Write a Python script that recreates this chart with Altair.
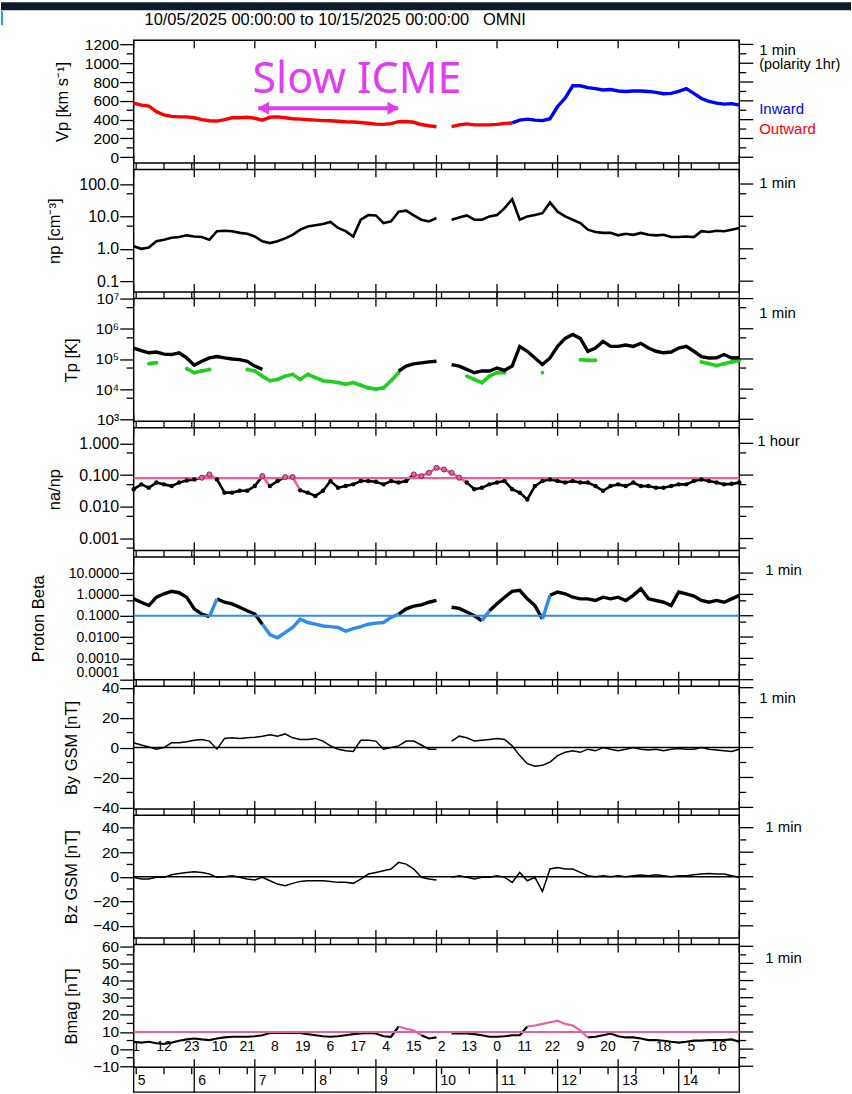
import altair as alt
import pandas as pd

# ---------------- data (3-hourly samples) ----------------
# hours since 10/05/2025 00:00
HOURS = list(range(0, 241, 3))

VP = [575, 555, 545, 485, 450, 435, 430, 430, 420, 400, 388, 385, 400, 420, 420, 425,
      415, 395, 425, 430, 420, 410, 405, 400, 395, 390, 388, 383, 378, 375, 370, 362,
      352, 350, 358, 378, 380, 372, 348, 335, 325, None, 325, 345, 355, 345, 345, 345,
      350, 360, 365, 395, 405, 395, 390, 410, 540, 630, 760, 760, 740, 730, 715, 720,
      705, 700, 705, 705, 700, 690, 675, 680, 700, 730, 680, 625, 595, 575, 565, 570, 555]
VP_POLARITY = ["Outward"] * 50 + ["Inward"] * 31

NP = [1.2, 1.0, 1.1, 1.7, 1.9, 2.2, 2.3, 2.6, 2.4, 2.3, 1.9, 3.5, 3.6, 3.5, 3.1, 2.9,
      2.4, 1.7, 1.5, 1.7, 2.1, 2.7, 3.9, 4.9, 5.3, 5.8, 6.7, 4.4, 3.5, 2.4, 7.9, 11,
      10.7, 6.2, 7.0, 14, 15, 10.7, 7.9, 7.0, 8.9, None, 7.9, 9.3, 10.7, 7.9, 7.9, 10,
      11, 18, 34, 7.9, 10, 11, 12.6, 27, 14, 10, 7.9, 6.2, 3.9, 3.3, 3.1, 3.1,
      2.6, 2.9, 2.7, 3.1, 2.7, 2.6, 2.7, 2.3, 2.3, 2.4, 2.3, 3.5, 3.3, 3.6, 3.5, 3.9, 4.4]

TP = [2.3e5, 1.9e5, 1.6e5, 1.7e5, 1.45e5, 1.4e5, 1.6e5, 1.08e5, 6.2e4, 8.4e4, 1.08e5, 1.2e5, 1.08e5, 1e5, 9.5e4, 8.4e4,
      5.8e4, 4.5e4, None, None, None, None, None, None, None, None, None, None, None, None, None, None,
      None, None, None, 4e4, 5.8e4, 6.9e4, 7.4e4, 8e4, 8.4e4, None, 6.5e4, 5.8e4, 4.5e4, 3.5e4, 4e4, 4e4,
      5e4, 4.2e4, 5.8e4, 2.6e5, 1.8e5, 1.08e5, 6.5e4, 1.08e5, 2.6e5, 4.8e5, 6.5e5, 4.8e5, 1.8e5, 2.3e5, 3.8e5, 2.6e5,
      2.6e5, 2.9e5, 2.6e5, 3.3e5, 2.3e5, 1.8e5, 1.6e5, 1.7e5, 2.3e5, 2.6e5, 1.8e5, 1.2e5, 1.08e5, 1.1e5, 1.4e5, 1.08e5, 1.1e5]

TP_LOW = [None, None, 7e4, 7.5e4, None, None, None, 4.8e4, 3.5e4, 4e4, 4.5e4, None, None, None, None, 4.5e4,
          4e4, 2.7e4, 1.9e4, 2.1e4, 2.7e4, 3.1e4, 2.1e4, 3.1e4, 2.4e4, 1.9e4, 1.8e4, 1.65e4, 1.45e4, 1.65e4, 1.35e4, 1.1e4,
          1.0e4, 1.1e4, 1.9e4, 3.5e4, None, None, None, None, None, None, None, None, 2.7e4, 2.1e4, 1.65e4, 2.7e4,
          3.5e4, 3.5e4, None, None, None, None, 3.5e4, None, None, None, None, 9.5e4, 9e4, 9e4, None, None,
          None, None, None, None, None, None, None, None, None, None, None, 8e4, 7e4, 6e4, 7e4, 8e4, 9e4]

NA_NP = [0.036, 0.051, 0.04, 0.058, 0.051, 0.045, 0.058, 0.068, 0.073, 0.083, 0.105, 0.073, 0.028, 0.028, 0.032, 0.032,
         0.045, 0.093, 0.045, 0.065, 0.087, 0.087, 0.033, 0.028, 0.022, 0.032, 0.065, 0.04, 0.045, 0.051, 0.065, 0.065,
         0.062, 0.051, 0.065, 0.058, 0.065, 0.105, 0.093, 0.118, 0.17, 0.15, 0.118, 0.083, 0.058, 0.036, 0.04, 0.051,
         0.058, 0.065, 0.036, 0.028, 0.017, 0.045, 0.065, 0.073, 0.065, 0.058, 0.065, 0.058, 0.058, 0.045, 0.032, 0.045,
         0.051, 0.045, 0.058, 0.045, 0.045, 0.04, 0.04, 0.045, 0.051, 0.051, 0.065, 0.073, 0.065, 0.058, 0.051, 0.053, 0.058]

BETA = [0.62, 0.43, 0.30, 0.74, 1.07, 1.4, 1.2, 0.74, 0.21, 0.12, 0.09, 0.62, 0.43, 0.36, 0.25, 0.17,
        0.12, 0.04, 0.013, 0.0093, 0.016, 0.028, 0.07, 0.048, 0.04, 0.033, 0.031, 0.028, 0.019, 0.025, 0.031, 0.04,
        0.045, 0.048, 0.083, 0.12, 0.21, 0.28, 0.32, 0.43, 0.52, None, 0.25, 0.22, 0.15, 0.1, 0.058, 0.17,
        0.36, 0.74, 1.4, 1.55, 0.62, 0.30, 0.07, 0.9, 1.3, 1.07, 0.74, 0.62, 0.62, 0.52, 0.74, 0.62,
        0.74, 0.52, 0.9, 1.86, 0.62, 0.52, 0.43, 0.30, 1.3, 1.07, 0.83, 0.52, 0.43, 0.52, 0.43, 0.62, 0.9]

BY = [3.2, 1.7, 0.4, -1.1, 0, 3.2, 3.2, 3.9, 4.8, 5.4, 4.3, -1.1, 6.1, 6.5, 6.1, 6.5,
      6.9, 7.6, 8.6, 7.6, 9.1, 6.5, 5.4, 5.4, 6.1, 4.3, 1.1, -1.1, -2.2, -2.6, 4.8, 4.8,
      4.3, -1.1, 0, 1.1, 4.3, 4.3, 1.7, -1.1, -1.1, None, 4.3, 7.6, 6.5, 4.3, 4.8, 5.4,
      6.1, 5.4, 1.1, -5.4, -10.8, -12.5, -11.9, -9.7, -5.4, -3.2, -2.2, -3.2, -1.1, -2.2, 0, -1.1,
      -2.2, -1.1, 0, -1.1, -1.7, -1.1, -2.2, -1.1, -0.6, -1.1, -1.1, 0, -1.1, -1.7, -2.2, -2.6, -1.1]

BZ = [-0.5, -1.9, -1.9, -0.5, -0.5, 1.6, 2.7, 3.5, 4.1, 3.5, 2.2, -0.5, 0, 0.8, -0.5, -1.9,
      -2.7, -0.5, -3.3, -6, -7.3, -5.4, -3.8, -3.3, -3.3, -3.3, -3.8, -4.6, -4.6, -5.4, -1.9, 2.2,
      3.5, 4.9, 6.3, 11.7, 10.3, 6.3, -0.5, -1.9, -2.7, None, -0.5, 0.8, -0.5, -1.9, -0.5, -0.5,
      0.8, -0.5, -4.6, 3.5, -3.3, -0.5, -12, 6.3, 7.6, 6.3, 6.3, 3.5, 0.8, 0, 0.8, 0,
      0.8, 0, 0.8, 1.4, 0.8, 1.6, 0.8, 0, 0.8, 0.8, 1.6, 2.2, 2.7, 2.2, 2.2, 0.8, -0.5]

BMAG = [4.3, 3.8, 4.3, 3.4, 3.0, 3.8, 4.9, 5.7, 6.2, 5.7, 5.3, 6.2, 6.8, 7.2, 7.2, 7.2,
        7.5, 8.1, 9.4, 9.4, 9.4, 9.6, 9.4, 8.7, 8.1, 7.5, 7.2, 7.5, 8.1, 8.7, 9.1, 9.4,
        9.1, 7.5, 7.2, 13.2, 11.9, 10.9, 8.1, 6.2, 6.8, None, 9.1, 9.1, 9.1, 8.7, 8.1, 7.2,
        7.2, 7.5, 8.1, 8.1, 13.2, 13.8, 14.7, 15.7, 16.6, 14.7, 13.8, 10.9, 6.8, 7.2, 8.1, 9.1,
        7.5, 6.8, 6.8, 6.2, 5.3, 5.3, 4.9, 4.3, 3.8, 4.3, 4.9, 4.9, 5.3, 5.3, 5.3, 5.7, 4.3]

for _s in (VP, VP_POLARITY, NP, TP, TP_LOW, NA_NP, BETA, BY, BZ, BMAG):
    assert len(_s) == len(HOURS), len(_s)

DAY_HOURS = [0, 24, 48, 72, 96, 120, 144, 168, 192, 216, 240]
DAY_LABELS = ["5", "6", "7", "8", "9", "10", "11", "12", "13", "14"]
HOUR_TICKS = [1, 12, 23, 34, 45, 56, 67, 78, 89, 100, 111, 122, 133, 144, 155, 166, 177, 188, 199, 210, 221, 232]
HOUR_LABELS = ["1", "12", "23", "10", "21", "8", "19", "6", "17", "4", "15", "2", "13", "0", "11", "22",
               "9", "20", "7", "18", "5", "16"]

ICME_ARROW_HOURS = [49.4, 104.8]
ICME_ARROW_VP = 520
ICME_TEXT_HOUR = 88.5
ICME_TEXT_VP = 818

# ---------------- styling ----------------
FONT = "Liberation Sans, Arial, Helvetica, sans-serif"
W, H = 607, 123
RED, BLUE = "#ff0000", "#0000ff"
GREEN = "#1fcf1f"
PINK = "#ef5d9f"
BBLUE = "#2e8cf0"
MAGENTA = "#e03cf4"

XS = alt.Scale(domain=[0, 240], nice=False, zero=False)
XE = alt.X("h:Q", scale=XS, axis=None)


def pieces(values, cond=None, flag=True, offset=0):
    """Split a series into drawable runs (break at gaps / colour changes)."""
    rows, seg = [], offset
    for i, v in enumerate(values):
        if v is None:
            continue
        c_prev = None if i == 0 else (cond[i - 1] if cond is not None else True)
        cont = i > 0 and values[i - 1] is not None and (cond is None or c_prev == flag)
        mine = cond is None or cond[i] == flag
        if mine or cont:
            if not cont:
                seg += 1
            rows.append({"h": HOURS[i], "v": v, "seg": seg})
    return pd.DataFrame(rows, columns=["h", "v", "seg"])


def yaxis(title, values, tx, fmt=None, expr=None, flush=False, lsize=15.5):
    kw = dict(values=values, title=title, titleX=tx, titleY=H / 2, titleAngle=270,
              titleBaseline="middle", titleAlign="center", titleFontSize=16.5,
              tickSize=14, tickWidth=1.3, tickColor="black", domain=False,
              labelPadding=1, labelOverlap=False, labelFontSize=lsize, grid=False)
    if fmt:
        kw["format"] = fmt
    if expr:
        kw["labelExpr"] = expr
    if flush:
        kw["labelFlush"] = True
    return alt.Axis(**kw)


def yticks(ysc, major, minor, axis):
    dmaj = pd.DataFrame({"v": major})
    dmin = pd.DataFrame({"v": minor})
    return [
        alt.Chart(dmaj).mark_rule(color="black", strokeWidth=1.3).encode(
            y=alt.Y("v:Q", scale=ysc, axis=axis), x=alt.value(W), x2=alt.value(W + 14)),
        alt.Chart(dmin).mark_rule(color="black", strokeWidth=1.3).encode(
            y=alt.Y("v:Q", scale=ysc, axis=None), x=alt.value(-7), x2=alt.value(0)),
        alt.Chart(dmin).mark_rule(color="black", strokeWidth=1.3).encode(
            y=alt.Y("v:Q", scale=ysc, axis=None), x=alt.value(W), x2=alt.value(W + 7)),
    ]


DF_DAYS = pd.DataFrame({"h": DAY_HOURS})
DF_H11 = pd.DataFrame({"h": HOUR_TICKS})


def xticks(first=False, last=False):
    top0 = 0 if first else -3.25
    bot1 = H + 25.5 if last else H + 3.25
    ls = [
        alt.Chart(DF_DAYS).mark_rule(color="black", strokeWidth=1.3).encode(
            x=XE, y=alt.value(top0), y2=alt.value(8)),
        alt.Chart(DF_DAYS).mark_rule(color="black", strokeWidth=1.3).encode(
            x=XE, y=alt.value(H - 8), y2=alt.value(bot1)),
        alt.Chart(DF_H11).mark_rule(color="black", strokeWidth=1.3).encode(
            x=XE, y=alt.value(H), y2=alt.value(H + (7 if last else 3.25))),
    ]
    if not first:
        ls.append(alt.Chart(DF_H11).mark_rule(color="black", strokeWidth=1.3).encode(
            x=XE, y=alt.value(-3.25), y2=alt.value(0)))
    return ls


def txt(s, x, y, size=15, color="black", align="left", font=FONT):
    return alt.Chart(pd.DataFrame({"t": [s]})).mark_text(
        align=align, baseline="middle", fontSize=size, color=color, font=font
    ).encode(text="t:N", x=alt.value(x), y=alt.value(y))


def line(df, ysc, color, width):
    return alt.Chart(df).mark_line(color=color, strokeWidth=width).encode(
        x=XE, y=alt.Y("v:Q", scale=ysc, axis=None), detail="seg:N")


def hline(value, ysc, color, width):
    return alt.Chart(pd.DataFrame({"v": [value]})).mark_rule(color=color, strokeWidth=width).encode(
        y=alt.Y("v:Q", scale=ysc, axis=None))


def panel(*layers):
    return alt.layer(*layers).properties(width=W, height=H).resolve_axis(y="independent", x="independent")


# ---------------- panel 1: Vp ----------------
ys1 = alt.Scale(domain=[-60, 1245], nice=False, zero=False)
outward = [p == "Outward" for p in VP_POLARITY]
p1 = panel(
    alt.Chart(pd.DataFrame({"a": [0]})).mark_rect(color="#0f1b2d").encode(
        x=alt.value(-133), x2=alt.value(852 - 133), y=alt.value(-38), y2=alt.value(-30)),
    alt.Chart(pd.DataFrame({"a": [0]})).mark_rect(color="#1ea3e6").encode(
        x=alt.value(-133), x2=alt.value(-131), y=alt.value(-29), y2=alt.value(-15)),
    txt("10/05/2025 00:00:00 to 10/15/2025 00:00:00\u00a0\u00a0\u00a0OMNI", 202, -20, size=16.5, align="center"),
    line(pieces(VP, outward, True), ys1, RED, 3.4),
    line(pieces(VP, outward, False, offset=100), ys1, BLUE, 3.4),
    *yticks(ys1, [0, 200, 400, 600, 800, 1000, 1200], [100, 300, 500, 700, 900, 1100],
            yaxis("Vp [km s\u207b\u00b9]", [0, 200, 400, 600, 800, 1000, 1200], -71, fmt="d")),
    *xticks(first=True),
    alt.Chart(pd.DataFrame({"h": ICME_ARROW_HOURS, "v": [ICME_ARROW_VP] * 2})).mark_line(
        color=MAGENTA, strokeWidth=4).encode(x=XE, y=alt.Y("v:Q", scale=ys1, axis=None)),
    alt.Chart(pd.DataFrame({"h": [ICME_ARROW_HOURS[0]], "v": [ICME_ARROW_VP]})).mark_point(
        shape="triangle-left", filled=True, color=MAGENTA, size=170, opacity=1).encode(
        x=XE, y=alt.Y("v:Q", scale=ys1, axis=None), xOffset=alt.value(5)),
    alt.Chart(pd.DataFrame({"h": [ICME_ARROW_HOURS[1]], "v": [ICME_ARROW_VP]})).mark_point(
        shape="triangle-right", filled=True, color=MAGENTA, size=170, opacity=1).encode(
        x=XE, y=alt.Y("v:Q", scale=ys1, axis=None), xOffset=alt.value(-5)),
    alt.Chart(pd.DataFrame({"h": [ICME_TEXT_HOUR], "v": [ICME_TEXT_VP], "t": ["Slow ICME"]})).mark_text(
        color=MAGENTA, fontSize=43, font="Noto Sans, Open Sans, sans-serif", align="center",
        baseline="middle").encode(x=XE, y=alt.Y("v:Q", scale=ys1, axis=None), text="t:N"),
    txt("1 min", W + 20, 10),
    txt("(polarity 1hr)", W + 20, 25, size=14.5),
    txt("Inward", W + 20, 69, color=BLUE),
    txt("Outward", W + 20, 89, color=RED),
)

# ---------------- panel 2: np ----------------
ys2 = alt.Scale(type="log", domain=[0.046, 283], nice=False)
p2 = panel(
    line(pieces(NP), ys2, "black", 2.6),
    *yticks(ys2, [0.1, 1, 10, 100], [0.5, 5, 50],
            yaxis("np [cm\u207b\u00b3]", [0.1, 1, 10, 100], -79, fmt=".1f", lsize=16)),
    *xticks(),
    txt("1 min", W + 20, 14),
)

# ---------------- panel 3: Tp ----------------
ys3 = alt.Scale(type="log", domain=[860, 1e7], nice=False)
tp_expr = "'10' + ['\u00b3','\u2074','\u2075','\u2076','\u2077'][round(log(datum.value)/LN10) - 3]"
p3 = panel(
    line(pieces(TP_LOW), ys3, GREEN, 3.6),
    alt.Chart(pieces(TP_LOW)).mark_circle(color=GREEN, size=14, opacity=1).encode(
        x=XE, y=alt.Y("v:Q", scale=ys3, axis=None)),
    line(pieces(TP), ys3, "black", 3.4),
    *yticks(ys3, [1e3, 1e4, 1e5, 1e6, 1e7], [5e3, 5e4, 5e5, 5e6],
            yaxis("Tp [K]", [1e3, 1e4, 1e5, 1e6, 1e7], -62, expr=tp_expr)),
    *xticks(),
    txt("1 min", W + 20, 14),
)

# ---------------- panel 4: na/np ----------------
ys4 = alt.Scale(type="log", domain=[4.2e-4, 3.1], nice=False)
hi4 = [v is not None and v > 0.08 for v in NA_NP]
df4 = pd.DataFrame({"h": HOURS, "v": NA_NP})
p4 = panel(
    line(pieces(NA_NP, hi4, False), ys4, "black", 2.6),
    line(pieces(NA_NP, hi4, True, offset=100), ys4, PINK, 2.6),
    hline(0.08, ys4, PINK, 2.2),
    alt.Chart(df4[df4.v <= 0.08]).mark_circle(color="black", size=20, opacity=1).encode(
        x=XE, y=alt.Y("v:Q", scale=ys4, axis=None)),
    alt.Chart(df4[df4.v > 0.08]).mark_point(filled=True, fill=PINK, stroke="#5a1f3a", strokeWidth=0.8,
                                           size=26, opacity=1).encode(
        x=XE, y=alt.Y("v:Q", scale=ys4, axis=None)),
    *yticks(ys4, [0.001, 0.01, 0.1, 1], [0.0005, 0.005, 0.05, 0.5],
            yaxis("na/np", [0.001, 0.01, 0.1, 1], -79, fmt=".3f", lsize=16)),
    *xticks(),
    txt("1 hour", W + 18, 13),
)

# ---------------- panel 5: proton beta ----------------
ys5 = alt.Scale(type="log", domain=[1e-4, 57], nice=False)
lo5 = [v is not None and v < 0.1 for v in BETA]
p5 = panel(
    line(pieces(BETA, lo5, False), ys5, "black", 3.4),
    line(pieces(BETA, lo5, True, offset=100), ys5, BBLUE, 3.4),
    hline(0.1, ys5, BBLUE, 2.2),
    *yticks(ys5, [0.0001, 0.001, 0.01, 0.1, 1, 10], [0.0005, 0.005, 0.05, 0.5, 5],
            yaxis("Proton Beta", [0.0001, 0.001, 0.01, 0.1, 1, 10], -95, fmt=".4f", flush=True,
                  lsize=14)),
    *xticks(),
    txt("1 min", W + 26, 13),
)

# ---------------- panel 6: By ----------------
ys6 = alt.Scale(domain=[-41, 41], nice=False, zero=False)
p6 = panel(
    hline(0, ys6, "black", 1.6),
    line(pieces(BY), ys6, "black", 1.5),
    *yticks(ys6, [-40, -20, 0, 20, 40], [-30, -10, 10, 30],
            yaxis("By GSM [nT]", [-40, -20, 0, 20, 40], -62, fmt="d")),
    *xticks(),
    txt("1 min", W + 20, 12),
)

# ---------------- panel 7: Bz ----------------
ys7 = alt.Scale(domain=[-50, 50], nice=False, zero=False)
p7 = panel(
    hline(0, ys7, "black", 1.6),
    line(pieces(BZ), ys7, "black", 1.5),
    *yticks(ys7, [-40, -20, 0, 20, 40], [-30, -10, 10, 30],
            yaxis("Bz GSM [nT]", [-40, -20, 0, 20, 40], -62, fmt="d")),
    *xticks(),
    txt("1 min", W + 26, 12),
)

# ---------------- panel 8: Bmag + time axis ----------------
ys8 = alt.Scale(domain=[-10.6, 61], nice=False, zero=False)
hi8 = [v is not None and v > 10 for v in BMAG]
p8 = panel(
    line(pieces(BMAG, hi8, False), ys8, "black", 2.2),
    line(pieces(BMAG, hi8, True, offset=100), ys8, PINK, 2.2),
    hline(10, ys8, PINK, 2.2),
    *yticks(ys8, [-10, 0, 10, 20, 30, 40, 50, 60], [-5, 5, 15, 25, 35, 45, 55],
            yaxis("Bmag [nT]", [-10, 0, 10, 20, 30, 40, 50, 60], -62, fmt="d")),
    *xticks(last=True),
    alt.Chart(pd.DataFrame({"a": [0]})).mark_rule(color="black", strokeWidth=1.3).encode(
        x=alt.value(0), x2=alt.value(W), y=alt.value(H + 25)),
    alt.Chart(pd.DataFrame({"h": HOUR_TICKS, "t": HOUR_LABELS})).mark_text(
        fontSize=14, baseline="middle", align="center").encode(x=XE, y=alt.value(H - 20), text="t:N"),
    alt.Chart(pd.DataFrame({"h": DAY_HOURS[:-1], "t": DAY_LABELS})).mark_text(
        fontSize=14, baseline="middle", align="left", dx=4).encode(x=XE, y=alt.value(H + 14), text="t:N"),
    txt("1 min", W + 26, 13),
)

chart = alt.vconcat(p1, p2, p3, p4, p5, p6, p7, p8, spacing=6.5, bounds="flush").properties(
    padding=0, background="white"
).configure_view(stroke="black", strokeWidth=1.5).configure_axis(
    labelFont=FONT, titleFont=FONT, labelColor="black", titleColor="black", titleFontWeight="normal"
).configure_text(font=FONT)

chart.save("out.html", embed_options={"renderer": "svg", "actions": False})
